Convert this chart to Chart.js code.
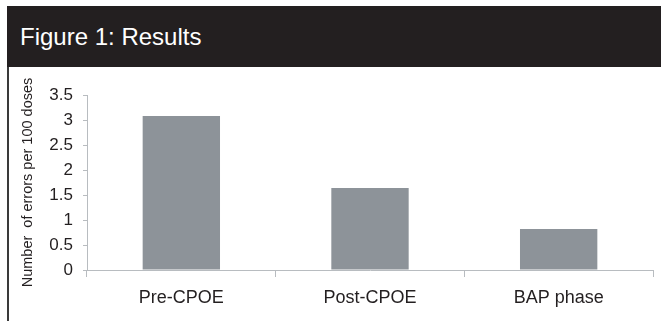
<!DOCTYPE html>
<html>
<head>
<meta charset="utf-8">
<script src="https://cdn.jsdelivr.net/npm/chart.js@4"></script>
<style>
  body { margin: 0; background: #fff; width: 661px; height: 321px; overflow: hidden; position: relative; }
  #header {
    position: absolute; left: 7px; top: 6px; width: 654px; height: 61px;
    background: #231f20; color: #fff;
    font-family: "Liberation Sans", Arial, sans-serif; font-size: 24px;
    line-height: 61px; padding-left: 13px; box-sizing: border-box;
  }
  #leftline { position: absolute; left: 7px; top: 67px; width: 2px; height: 254px; background: #3a3a3a; }
  #wrap { position: absolute; left: 9px; top: 67px; width: 652px; height: 254px; }
</style>
</head>
<body>
<div id="header">Figure 1: Results</div>
<div id="leftline"></div>
<div id="wrap"><canvas id="grafico"></canvas></div>
<script>
// valores
const fases = ['Pre-CPOE', 'Post-CPOE', 'BAP phase'];
const errores = [3.08, 1.64, 0.82];
const tituloY = 'Number  of errors per 100 doses';

const colorEje = '#b8bcc0';
const ctx = document.getElementById('grafico').getContext('2d');
new Chart(ctx, {
    type: 'bar',
    data: {
        labels: fases,
        datasets: [
            {
                label: 'Errors',
                data: errores,
                backgroundColor: '#8d9399',
                borderWidth: 0,
                barPercentage: 0.41,
                categoryPercentage: 1
            }
        ]
    },
    options: {
        responsive: true,
        maintainAspectRatio: false,
        animation: false,
        layout: { padding: { top: 28, right: 8, left: 0, bottom: 0 } },
        plugins: {
            legend: { display: false },
            tooltip: { enabled: false }
        },
        scales: {
            x: {
                grid: { drawOnChartArea: false, drawTicks: true, tickLength: 7, color: colorEje, offset: true },
                border: { color: colorEje, width: 1 },
                ticks: {
                    color: '#231f20',
                    padding: 10,
                    font: { family: 'Liberation Sans', size: 18 }
                },
                afterFit: (scale) => { scale.height = 51; }
            },
            y: {
                min: 0,
                max: 3.5,
                grid: { drawOnChartArea: false, drawTicks: true, tickLength: 4, color: colorEje },
                border: { color: colorEje, width: 1 },
                ticks: {
                    stepSize: 0.5,
                    color: '#231f20',
                    padding: 10,
                    font: { family: 'Liberation Sans', size: 17 },
                    callback: (v) => String(v)
                },
                title: {
                    display: true,
                    text: tituloY,
                    color: '#231f20',
                    padding: { top: 10, bottom: 0 },
                    font: { family: 'Liberation Sans', size: 14.5 }
                },
                afterFit: (scale) => { scale.width = 78; }
            }
        }
    }
});
</script>
</body>
</html>
